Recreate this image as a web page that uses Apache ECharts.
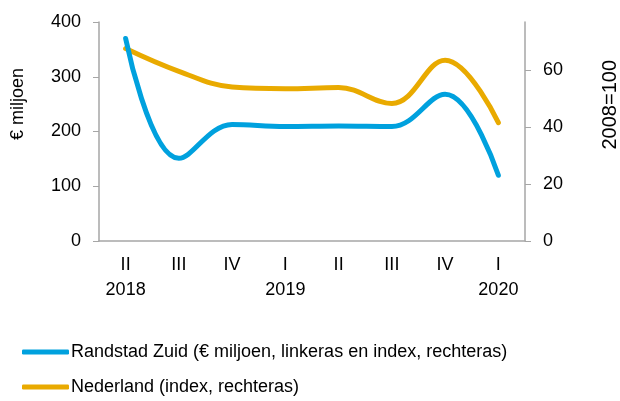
<!DOCTYPE html>
<html><head><meta charset="utf-8">
<script src="https://cdn.jsdelivr.net/npm/echarts@6/dist/echarts.min.js"></script>
<style>html,body{margin:0;padding:0;background:#fff}#c{width:620px;height:401px}</style>
</head><body><div id="c"></div>
<script>
const categories = ['II\n2018','III','IV','I\n2019','II','III','IV','I\n2020'];
const randstadZuid = [370, 151, 213, 209, 210, 209, 268, 120];
const nederland = [67.5, 59.5, 54.0, 53.4, 53.8, 48.2, 63.4, 41.5];
const leftTicks = [0, 100, 200, 300, 400];
const rightTicks = [0, 20, 40, 60];
const seriesNames = ['Randstad Zuid (€ miljoen, linkeras en index, rechteras)', 'Nederland (index, rechteras)'];

const font = 'Liberation Sans, Arial, sans-serif';
const chart = echarts.init(document.getElementById('c'), null, {renderer:'canvas'});
chart.setOption({
  animation:false,
  grid:{left:99, right:95, top:22, bottom:160, containLabel:false},
  xAxis:{type:'category', data:categories, boundaryGap:true,
    axisLine:{lineStyle:{color:'#a6a6a6', width:1.5}}, axisTick:{show:false},
    axisLabel:{color:'#000', fontSize:18, fontFamily:font, lineHeight:25, margin:12}},
  yAxis:[
    {type:'value', min:0, max:400, interval:100, position:'left',
     axisLine:{show:true, lineStyle:{color:'#a6a6a6', width:1.5}},
     axisTick:{show:true, length:6, lineStyle:{color:'#a6a6a6'}, customValues:leftTicks},
     axisLabel:{color:'#000', fontSize:18, fontFamily:font, margin:18, customValues:leftTicks},
     splitLine:{show:false}},
    {type:'value', min:0, max:76.8, interval:20, position:'right',
     axisLine:{show:true, lineStyle:{color:'#a6a6a6', width:1.5}},
     axisTick:{show:true, length:6, lineStyle:{color:'#a6a6a6'}, customValues:rightTicks},
     axisLabel:{color:'#000', fontSize:18, fontFamily:font, margin:18, customValues:rightTicks},
     splitLine:{show:false}}
  ],
  legend:{orient:'vertical', left:22, top:343, padding:0, itemWidth:47, itemHeight:5, itemGap:17,
    icon:'roundRect', textStyle:{color:'#000', fontSize:18, fontFamily:font, padding:[0,0,0,-3]},
    data:seriesNames},
  series:[
    {name:seriesNames[1], type:'line', yAxisIndex:1, data:nederland, smooth:0.4, showSymbol:false,
     lineStyle:{color:'#e9aa00', width:5, cap:'round'}, itemStyle:{color:'#e9aa00'}},
    {name:seriesNames[0], type:'line', yAxisIndex:0, data:randstadZuid, smooth:0.4, showSymbol:false,
     lineStyle:{color:'#00a1de', width:5, cap:'round'}, itemStyle:{color:'#00a1de'}}
  ],
  graphic:[
    {type:'text', left:9, top:68, rotation:Math.PI/2, style:{text:'€ miljoen', fill:'#000', font:'18px '+font}},
    {type:'text', left:600, top:60, rotation:Math.PI/2, style:{text:'2008=100', fill:'#000', font:'20px '+font}}
  ]
});
</script></body></html>
